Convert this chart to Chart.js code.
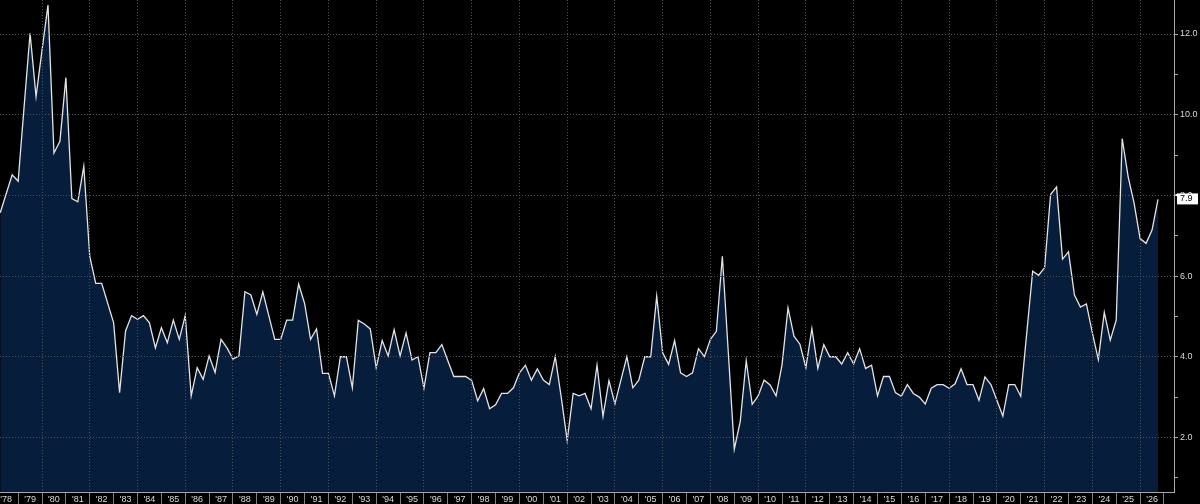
<!DOCTYPE html>
<html>
<head>
<meta charset="utf-8">
<script src="https://cdn.jsdelivr.net/npm/chart.js@4.4.1/dist/chart.umd.min.js"></script>
<style>
  html, body { margin: 0; padding: 0; background: #000; overflow: hidden; }
  canvas { display: block; background: #000; }
</style>
</head>
<body>
<canvas id="c" width="1200" height="504"></canvas>
<script>
// ---- DATA (quarterly observations, first one at 1978.25) ----
const START_YEAR = 1978.25;
const STEP = 0.25;

const q1978to1983 = [7.57, 8.04, 8.51, 8.35, 10.2, 12.02, 10.45, 11.6, 12.72, 9.05, 9.34, 10.92,
  7.92, 7.84, 8.72, 6.49, 5.82, 5.82, 5.33, 4.84, 3.11, 4.64, 5.02];
const q1984to1993 = [4.93, 5.02, 4.84, 4.22, 4.72, 4.35, 4.91, 4.43, 5.02, 3.03, 3.73, 3.44,
  4.02, 3.61, 4.43, 4.22, 3.94, 4.02, 5.61, 5.53, 5.05, 5.61, 5.02, 4.43, 4.43, 4.91, 4.91,
  5.8, 5.32, 4.43, 4.69, 3.59, 3.59, 3.03, 4.0, 4.0, 3.23, 4.90, 4.81, 4.69];
const q1994to2003 = [3.73, 4.40, 4.02, 4.67, 4.02, 4.59, 3.92, 4.0, 3.22, 4.10, 4.10, 4.30,
  3.9, 3.51, 3.51, 3.51, 3.41, 2.91, 3.21, 2.71, 2.81, 3.09, 3.09, 3.23, 3.60, 3.79, 3.42,
  3.70, 3.42, 3.31, 4.0, 3.0, 1.92, 3.09, 3.03, 3.09, 2.71, 3.79, 2.52, 3.41];
const q2004to2013 = [2.83, 3.42, 4.0, 3.23, 3.42, 4.0, 4.0, 5.50, 4.10, 3.81, 4.40, 3.60,
  3.51, 3.60, 4.20, 4.0, 4.43, 4.63, 6.49, 4.1, 1.71, 2.4, 3.90, 2.82, 3.03, 3.42, 3.30,
  3.03, 3.8, 5.21, 4.51, 4.31, 3.73, 4.70, 3.71, 4.30, 4.0, 4.0, 3.82, 4.10];
const q2014to2026 = [3.82, 4.20, 3.71, 3.79, 3.03, 3.51, 3.51, 3.11, 3.02, 3.31, 3.09, 3.0,
  2.83, 3.22, 3.31, 3.31, 3.22, 3.33, 3.70, 3.31, 3.31, 2.92, 3.50, 3.31, 2.92, 2.53, 3.31,
  3.31, 3.02, 4.58, 6.12, 6.02, 6.21, 8.02, 8.21, 6.42, 6.60, 5.53, 5.23, 5.31, 4.59, 3.93,
  5.10, 4.41, 4.91, 9.41, 8.46, 7.80, 6.93, 6.81, 7.14, 7.9];

const FIRST_LABEL_YEAR = 1978;
const yearLabels = ["'78","'79","'80","'81","'82","'83","'84","'85","'86","'87","'88","'89",
  "'90","'91","'92","'93","'94","'95","'96","'97","'98","'99","'00","'01","'02","'03","'04",
  "'05","'06","'07","'08","'09","'10","'11","'12","'13","'14","'15","'16","'17","'18","'19",
  "'20","'21","'22","'23","'24","'25","'26"];
const yTickValues = [1, 2, 3, 4, 5, 6, 7, 8, 9, 10, 11, 12];

// ---- build ----
const values = [].concat(q1978to1983, q1984to1993, q1994to2003, q2004to2013, q2014to2026);
const points = values.map((v, i) => ({ x: START_YEAR + i * STEP, y: v }));

const GRID = '#525252';
const AXIS = '#a8a8a8';
const TXT = '#dadada';
const FONT = { family: 'Liberation Sans, Arial, sans-serif', size: 9 };
const CLEAR = 'rgba(0,0,0,0)';

const lastLabelPlugin = {
  id: 'lastLabel',
  afterDraw(chart) {
    const ys = chart.scales.y;
    const v = values[values.length - 1];
    const y = ys.getPixelForValue(v);
    const x0 = ys.left;
    const ctx = chart.ctx;
    ctx.save();
    ctx.fillStyle = '#ffffff';
    ctx.beginPath();
    ctx.moveTo(x0 + 1, y - 5);
    ctx.lineTo(x0 + 4, y - 6);
    ctx.lineTo(x0 + 4, y - 2);
    ctx.closePath();
    ctx.fill();
    ctx.fillRect(x0 + 3, y - 6, 21, 11);
    ctx.fillStyle = '#000';
    ctx.font = '9px "Liberation Sans", Arial, sans-serif';
    ctx.textBaseline = 'middle';
    ctx.textAlign = 'left';
    ctx.fillText(v.toFixed(1), x0 + 6, y - 0.5);
    ctx.restore();
  }
};

new Chart(document.getElementById('c'), {
  type: 'line',
  data: {
    datasets: [{
      data: points,
      borderColor: '#e4e4e4',
      borderWidth: 1.3,
      backgroundColor: '#061d3c',
      fill: 'start',
      pointRadius: 0,
      tension: 0
    }]
  },
  options: {
    responsive: false,
    animation: false,
    layout: { padding: 0 },
    plugins: { legend: { display: false }, tooltip: { enabled: false } },
    scales: {
      x: {
        type: 'linear',
        position: 'bottom',
        min: 1978.24,
        max: 2027.42,
        afterBuildTicks: s => {
          const t = [];
          yearLabels.forEach((lab, k) => {
            t.push({ value: FIRST_LABEL_YEAR + k + 0.5 });
            t.push({ value: FIRST_LABEL_YEAR + k + 1 });
          });
          s.ticks = t;
        },
        afterFit: s => { s.height = 12; s.paddingLeft = 0; s.paddingRight = 0; },
        ticks: {
          autoSkip: false, maxRotation: 0, minRotation: 0, padding: -10,
          color: TXT, font: FONT,
          callback: v => {
            const k = v - FIRST_LABEL_YEAR - 0.5;
            return Number.isInteger(k) ? yearLabels[k] : '';
          }
        },
        grid: {
          z: 1,
          drawTicks: true,
          tickLength: 12,
          lineWidth: 1,
          color: c => (c.tick && Number.isInteger(c.tick.value) && c.tick.value % 2 === 0) ? GRID : CLEAR,
          tickColor: c => (c.tick && Number.isInteger(c.tick.value)) ? '#808080' : CLEAR,
          tickBorderDash: []
        },
        border: { display: true, z: 2, color: AXIS, width: 1, dash: [1, 2] }
      },
      y: {
        type: 'linear',
        position: 'right',
        min: 0.647,
        max: 12.843,
        afterBuildTicks: s => { s.ticks = yTickValues.map(v => ({ value: v })); },
        afterFit: s => { s.width = 26; s.paddingTop = 0; s.paddingBottom = 0; },
        ticks: {
          autoSkip: false, padding: 2, color: TXT, font: FONT,
          callback: v => (v % 2 === 0 ? v.toFixed(1) : '')
        },
        grid: {
          z: 1,
          drawTicks: true,
          tickLength: 4,
          lineWidth: 1,
          color: c => (c.tick && c.tick.value % 2 === 0) ? GRID : CLEAR,
          tickColor: AXIS,
          tickBorderDash: []
        },
        border: { display: true, z: 2, color: AXIS, width: 1, dash: [1, 2] }
      }
    }
  },
  plugins: [lastLabelPlugin]
});
</script>
</body>
</html>
